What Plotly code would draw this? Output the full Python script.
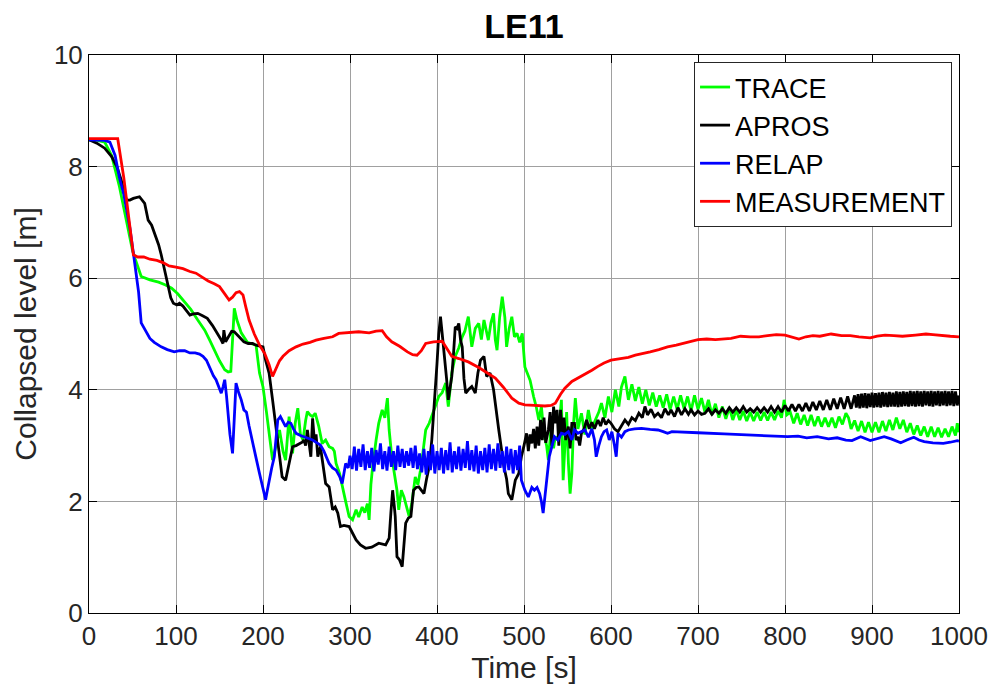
import plotly.graph_objects as go

# ---- TRACE (green) ----
TRACE_T = [0, 7, 18, 26, 35, 43, 50, 53, 60, 70, 80, 88, 95, 102, 110, 117, 125, 133, 139, 144,
           150, 156, 160, 163, 165, 167, 170, 175, 182, 188, 192, 196, 200, 204, 208, 211, 215, 219, 223, 226,
           230, 234, 237, 240, 243, 246, 249, 251, 254, 257, 260, 264, 268, 272, 276, 280, 282, 284, 288, 291,
           295, 299, 303, 307, 310, 314, 317, 320, 322, 324, 326, 330, 333, 337, 340, 343, 345, 348, 351, 354,
           356, 359, 362, 365, 368, 371, 375, 378, 381, 384, 387, 391, 394, 398, 402, 406, 410, 413, 417, 421,
           425, 429, 432, 436, 440, 444, 448, 451, 454, 457, 459, 462, 465, 467, 469, 472, 475, 478, 480, 483,
           486, 489, 492, 495, 498, 501, 504, 507, 511, 514, 517, 520, 523, 526, 528, 531, 534, 536, 539, 541,
           543, 545, 547, 549, 551, 553, 555, 557, 559, 562, 566, 570, 574, 578, 582, 586, 589, 593, 597, 601,
           605, 609, 612, 616, 620, 624, 628, 632, 636, 640, 644, 648, 652, 656, 660, 664, 668, 672, 676, 680,
           684, 688, 692, 696, 700, 704, 708, 712, 716, 720, 724, 728, 732, 736, 740, 744, 748, 752, 756, 760,
           764, 768, 772, 776, 780, 784, 788, 792, 796, 799, 802, 806, 810, 814, 818, 822, 826, 830, 834, 838,
           842, 846, 850, 854, 858, 862, 866, 870, 873, 876, 880, 884, 888, 892, 896, 900, 904, 908, 912, 916,
           920, 924, 928, 932, 936, 940, 944, 948, 952, 956, 960, 964, 968, 972, 976, 980, 984, 988, 992, 996,
           998, 1000]
TRACE_V = [8.48, 8.48, 8.44, 8.2, 7.64, 7.0, 6.5, 6.35, 6.03, 5.97, 5.93, 5.88, 5.82, 5.72, 5.58, 5.44, 5.25, 5.07, 4.88, 4.71,
           4.52, 4.36, 4.32, 4.33, 4.8, 5.46, 5.25, 5.02, 4.85, 4.82, 4.8, 4.3, 4.05, 3.6, 3.1, 2.74, 3.0, 3.28, 2.9, 2.74,
           3.52, 2.86, 3.4, 3.67, 3.2, 3.1, 3.45, 3.61, 3.55, 3.52, 3.58, 3.35, 3.04, 3.1, 2.98, 2.95, 2.9, 2.68, 2.5, 2.26,
           2.0, 1.73, 1.67, 1.85, 1.72, 1.9, 1.8, 1.96, 1.67, 2.3, 2.62, 3.1, 3.4, 3.64, 3.5, 3.85, 3.28, 2.8, 2.5, 2.2,
           1.85, 2.2, 2.08, 1.9, 1.73, 1.96, 2.44, 2.3, 2.56, 2.9, 3.28, 3.4, 3.52, 3.7, 3.88, 3.95, 4.12, 3.7, 4.3, 4.6,
           4.75, 4.95, 5.05, 5.31, 4.77, 5.1, 5.19, 4.9, 5.25, 5.0, 4.89, 5.2, 5.37, 4.9, 4.71, 5.3, 5.67, 5.3, 4.77, 5.1,
           5.31, 4.95, 5.01, 4.85, 5.01, 4.41, 4.3, 4.17, 3.88, 3.7, 3.46, 3.7, 3.2, 3.0, 2.74, 3.3, 2.95, 3.16, 3.1, 3.46,
           3.82, 2.38, 2.98, 3.6, 2.7, 2.14, 2.5, 3.4, 3.85, 3.3, 3.58, 3.2, 3.64, 3.3, 3.46, 3.6, 3.76, 3.5, 3.88, 3.6,
           4.0, 3.7, 4.05, 4.24, 3.82, 4.1, 3.8, 4.05, 3.75, 4.0, 3.72, 3.95, 3.7, 3.9, 3.68, 3.92, 3.65, 3.88, 3.65, 3.9,
           3.66, 3.88, 3.62, 3.9, 3.65, 3.85, 3.6, 3.82, 3.55, 3.75, 3.5, 3.7, 3.48, 3.68, 3.46, 3.64, 3.46, 3.62, 3.44, 3.6,
           3.44, 3.6, 3.45, 3.6, 3.45, 3.6, 3.46, 3.62, 3.5, 3.82, 3.55, 3.6, 3.4, 3.58, 3.38, 3.55, 3.36, 3.55, 3.35, 3.52,
           3.34, 3.5, 3.34, 3.5, 3.32, 3.52, 3.38, 3.58, 3.5, 3.3, 3.45, 3.26, 3.44, 3.24, 3.42, 3.24, 3.42, 3.24, 3.44, 3.26,
           3.46, 3.28, 3.5, 3.3, 3.46, 3.24, 3.4, 3.2, 3.36, 3.18, 3.34, 3.16, 3.34, 3.16, 3.32, 3.15, 3.3, 3.16, 3.34, 3.18,
           3.4, 3.24]

# ---- APROS (black) ----
APROS_T = [0, 9, 18, 26, 32, 37, 43, 47, 51, 58, 64, 68, 72, 76, 80, 83, 87, 91, 94, 97,
           101, 104, 108, 112, 116, 120, 125, 130, 136, 142, 148, 151, 154, 155, 157, 160, 164, 167, 172, 178,
           183, 188, 192, 196, 200, 203, 207, 211, 214, 217, 220, 222, 226, 230, 234, 238, 242, 245, 247, 249,
           251, 253, 255, 257, 259, 261, 263, 266, 269, 272, 276, 278, 280, 283, 286, 289, 293, 299, 303, 307,
           312, 318, 325, 333, 341, 345, 347, 349, 351, 352, 354, 357, 360, 362, 364, 367, 370, 373, 376, 379,
           382, 385, 388, 391, 394, 396, 398, 400, 402, 404, 406, 408, 411, 413, 415, 417, 419, 421, 423, 425,
           427, 429, 431, 433, 436, 440, 444, 447, 450, 454, 457, 461, 465, 468, 471, 474, 477, 480, 482, 486,
           490, 494, 497, 500, 503, 505, 507, 509, 511, 513, 515, 517, 519, 521, 523, 525, 528, 530, 532, 534,
           536, 538, 540, 542, 544, 546, 548, 551, 553, 555, 558, 560, 562, 564, 566, 569, 572, 575, 578, 581,
           585, 588, 591, 594, 597, 600, 604, 608, 612, 616, 620, 624, 628, 632, 636, 639, 642, 646, 650, 654,
           658, 662, 666, 669, 673, 677, 681, 685, 689, 692, 696, 700, 704, 708, 712, 716, 720, 724, 728, 732,
           736, 740, 744, 748, 752, 756, 760, 764, 768, 772, 776, 780, 784, 788, 792, 796, 800, 804, 808, 812,
           816, 820, 824, 828, 832, 836, 840, 844, 848, 852, 856, 860, 864, 868, 872, 876,
           880, 882, 884, 886, 888, 890, 892, 894, 896, 898, 900, 902, 904, 906, 908, 910, 912, 914, 916, 918,
           920, 922, 924, 926, 928, 930, 932, 934, 936, 938, 940, 942, 944, 946, 948, 950, 952, 954, 956, 958,
           960, 962, 964, 966, 968, 970, 972, 974, 976, 978, 980, 982, 984, 986, 988, 990, 992, 994, 996, 998,
           1000]
APROS_V = [8.48, 8.42, 8.33, 8.18, 8.0, 7.76, 7.4, 7.4, 7.43, 7.46, 7.34, 7.04, 6.95, 6.78, 6.6, 6.42, 6.15, 5.91, 5.65, 5.55,
           5.52, 5.55, 5.5, 5.42, 5.34, 5.36, 5.37, 5.33, 5.28, 5.15, 5.01, 4.92, 4.83, 5.07, 4.86, 4.95, 5.05, 5.04, 4.95, 4.86,
           4.83, 4.83, 4.8, 4.78, 4.77, 4.53, 4.3, 3.82, 3.45, 3.1, 2.7, 2.44, 2.38, 2.68, 2.98, 3.0, 3.04, 3.06, 3.1, 3.0,
           3.28, 3.05, 2.8, 3.49, 3.1, 3.2, 2.8, 2.98, 2.6, 2.32, 2.26, 2.0, 1.85, 1.9, 1.79, 1.55, 1.57, 1.55, 1.42, 1.31,
           1.22, 1.16, 1.18, 1.25, 1.22, 1.34, 1.8, 2.2, 1.9, 1.73, 1.01, 0.95, 0.83, 1.2, 1.61, 1.7, 1.73, 2.2, 2.25, 2.26,
           2.2, 2.14, 2.4, 2.62, 3.1, 3.52, 4.0, 4.47, 5.0, 5.31, 5.0, 4.71, 4.2, 3.82, 4.0, 4.24, 4.65, 5.13, 5.1, 5.19,
           4.9, 4.77, 4.2, 3.94, 4.0, 4.06, 3.94, 4.3, 4.53, 4.6, 4.24, 4.3, 4.0, 3.6, 3.28, 2.95, 2.62, 2.4, 2.14, 2.03,
           2.38, 2.5, 2.8, 3.0, 3.22, 2.9, 3.2, 3.04, 3.3, 2.95, 3.34, 3.0, 3.46, 3.1, 3.5, 3.05, 3.28, 3.6, 3.0, 3.7,
           3.4, 3.64, 3.0, 3.64, 3.2, 3.5, 3.1, 3.34, 2.95, 3.4, 3.4, 3.1, 3.16, 3.0, 3.22, 3.3, 3.46, 3.3, 3.42, 3.3,
           3.46, 3.35, 3.5, 3.38, 3.45, 3.4, 3.3, 3.25, 3.35, 3.46, 3.38, 3.5, 3.45, 3.58, 3.5, 3.7, 3.55, 3.65, 3.52, 3.58,
           3.5, 3.66, 3.55, 3.64, 3.52, 3.68, 3.55, 3.66, 3.56, 3.64, 3.55, 3.62, 3.56, 3.58, 3.66, 3.56, 3.64, 3.58, 3.66, 3.58,
           3.68, 3.6, 3.68, 3.6, 3.7, 3.6, 3.66, 3.6, 3.68, 3.6, 3.68, 3.6, 3.7, 3.6, 3.7, 3.6, 3.72, 3.62, 3.74, 3.62,
           3.74, 3.62, 3.76, 3.62, 3.78, 3.64, 3.8, 3.64, 3.82, 3.64, 3.84, 3.66, 3.86, 3.66, 3.88, 3.66,
           3.9, 3.68, 3.92, 3.67, 3.93, 3.68, 3.94, 3.67, 3.93, 3.69, 3.95, 3.68, 3.94, 3.69, 3.95, 3.68, 3.96, 3.7, 3.95, 3.69,
           3.96, 3.7, 3.95, 3.7, 3.97, 3.69, 3.96, 3.7, 3.97, 3.71, 3.96, 3.7, 3.98, 3.71, 3.97, 3.7, 3.98, 3.71, 3.97, 3.7,
           3.98, 3.72, 3.97, 3.71, 3.98, 3.7, 3.97, 3.72, 3.98, 3.71, 3.97, 3.72, 3.98, 3.71, 3.97, 3.72, 3.98, 3.71, 3.97, 3.72,
           3.9]

# ---- RELAP (blue) ----
RELAP_T = [0, 10, 18, 24, 30, 35, 40, 43, 47, 51, 54, 57, 60, 63, 66, 70, 75, 83, 90, 98,
           104, 110, 116, 122, 127, 131, 135, 140, 143, 146, 149, 152, 154, 156, 158, 160, 162, 165, 167, 169,
           172, 175, 178, 181, 184, 188, 192, 196, 200, 203, 205, 207, 210, 213, 215, 217, 220, 223, 226, 229,
           232, 235, 238, 243, 247, 252, 257, 262, 266, 270, 273, 276, 280, 284, 288, 291, 293, 295, 298, 300,
           302.5, 305, 307.5, 310, 312.5, 315, 317.5, 320, 322.5, 325, 327.5, 330, 332.5, 335, 337.5, 340, 342.5, 345, 347.5, 350,
           352.5, 355, 357.5, 360, 362.5, 365, 367.5, 370, 372.5, 375, 377.5, 380, 382.5, 385, 387.5, 390, 392.5, 395, 397.5, 400,
           402.5, 405, 407.5, 410, 412.5, 415, 417.5, 420, 422.5, 425, 427.5, 430, 432.5, 435, 437.5, 440, 442.5, 445, 447.5, 450,
           452.5, 455, 457.5, 460, 462.5, 465, 467.5, 470, 472.5, 475, 477.5, 480, 482.5, 485, 487.5, 490, 492.5, 495,
           497, 501, 505, 509, 512, 515, 518, 520, 522, 524, 526, 529, 532, 535, 539, 543, 547, 551, 555, 558,
           562, 566, 570, 574, 578, 581, 583, 586, 589, 592, 595, 598, 601, 604, 606, 608, 612, 616, 620, 627,
           635, 645, 654, 660, 665, 670, 680, 700, 730, 750, 770, 790, 803, 815, 825, 837, 850, 860, 870, 877,
           887, 898, 906, 914, 922, 933, 940, 948, 954, 960, 970, 982, 990, 998, 1000]
RELAP_V = [8.48, 8.48, 8.47, 8.44, 8.2, 7.8, 7.5, 7.25, 6.9, 6.45, 6.1, 5.75, 5.2, 5.12, 5.05, 4.92, 4.85, 4.77, 4.72, 4.68,
           4.7, 4.7, 4.66, 4.66, 4.64, 4.6, 4.53, 4.35, 4.25, 4.18, 4.05, 3.94, 4.05, 4.18, 3.9, 3.52, 3.2, 2.86, 3.5, 4.12,
           3.95, 3.82, 3.64, 3.6, 3.35, 3.04, 2.78, 2.5, 2.2, 2.03, 2.2, 2.38, 2.6, 2.8, 3.1, 3.46, 3.52, 3.42, 3.34, 3.42,
           3.4, 3.3, 3.22, 3.18, 3.16, 3.13, 3.1, 3.05, 3.01, 2.9, 2.8, 2.68, 2.6, 2.56, 2.45, 2.32, 2.5, 2.68, 2.6, 2.82,
           2.58, 2.98, 2.55, 2.94, 2.62, 3.02, 2.56, 2.9, 2.6, 2.96, 2.54, 2.92, 2.66, 3.04, 2.58, 2.9, 2.55, 2.98, 2.62, 2.9,
           2.56, 3.0, 2.62, 2.94, 2.6, 2.9, 2.64, 2.96, 2.6, 3.0, 2.58, 2.86, 2.52, 2.94, 2.48, 2.9, 2.56, 3.02, 2.5, 2.9,
           2.56, 2.96, 2.5, 2.92, 2.56, 3.06, 2.52, 2.9, 2.58, 2.98, 2.55, 2.94, 2.6, 3.08, 2.56, 2.92, 2.54, 3.0, 2.5, 2.9,
           2.56, 2.96, 2.52, 3.02, 2.58, 2.94, 2.55, 3.04, 2.6, 2.9, 2.52, 2.98, 2.56, 2.94, 2.5, 2.92, 2.56, 3.0,
           2.38, 2.2, 2.08, 2.25, 2.2, 2.25, 2.14, 2.0, 1.79, 2.1, 2.44, 2.8, 2.98, 3.16, 3.1, 3.22, 3.2, 3.25, 3.1, 3.28,
           3.22, 3.25, 3.28, 3.15, 3.3, 3.1, 2.8, 3.0, 3.16, 3.25, 3.28, 3.1, 3.25, 3.0, 2.8, 3.22, 3.15, 3.25, 3.28, 3.3,
           3.31, 3.29, 3.28, 3.25, 3.22, 3.25, 3.24, 3.23, 3.21, 3.2, 3.19, 3.18, 3.16, 3.17, 3.14, 3.16, 3.12, 3.14, 3.1, 3.09,
           3.16, 3.09, 3.12, 3.16, 3.12, 3.05, 3.1, 3.15, 3.1, 3.07, 3.05, 3.04, 3.06, 3.09, 3.08]

# ---- MEASUREMENT (red) ----
MEAS_T = [0, 33, 40, 45, 51, 56, 63, 70, 78, 85, 92, 100, 108, 116, 123, 130, 137, 144, 150, 156,
          161, 165, 169, 173, 177, 180, 184, 190, 196, 202, 207, 211, 215, 219, 223, 230, 238, 246, 254, 261,
          270, 280, 287, 299, 310, 322, 330, 337, 342, 348, 357, 366, 372, 377, 382, 387, 396, 406, 411, 417,
          425, 436, 448, 458, 467, 476, 486, 494, 501, 512, 524, 531, 536, 542, 547, 555, 563, 570, 578, 585,
          592, 600, 610, 620, 628, 635, 645, 655, 665, 675, 685, 693, 700, 710, 720, 738, 749, 760, 770, 780,
          790, 800, 808, 816, 824, 832, 840, 853, 865, 875, 885, 898, 906, 915, 925, 935, 950, 962, 970, 980,
          990, 1000]
MEAS_V = [8.5, 8.5, 7.8, 7.2, 6.42, 6.38, 6.38, 6.34, 6.32, 6.28, 6.22, 6.2, 6.17, 6.12, 6.09, 6.02, 5.95, 5.9, 5.85, 5.72,
          5.61, 5.66, 5.74, 5.76, 5.7, 5.5, 5.25, 5.0, 4.8, 4.65, 4.45, 4.24, 4.38, 4.52, 4.6, 4.7, 4.77, 4.82, 4.85, 4.89,
          4.92, 4.95, 5.01, 5.02, 5.04, 5.02, 5.05, 5.06, 4.95, 4.86, 4.78, 4.68, 4.63, 4.62, 4.7, 4.83, 4.86, 4.87, 4.75, 4.6,
          4.56, 4.5, 4.4, 4.3, 4.21, 4.05, 3.85, 3.76, 3.73, 3.72, 3.71, 3.72, 3.76, 3.92, 4.03, 4.15, 4.22, 4.27, 4.35, 4.42,
          4.48, 4.53, 4.56, 4.58, 4.62, 4.65, 4.68, 4.72, 4.77, 4.8, 4.84, 4.88, 4.9, 4.91, 4.9, 4.92, 4.96, 4.95, 4.95, 4.97,
          4.99, 4.98, 4.95, 4.91, 4.95, 4.97, 4.96, 5.0, 4.97, 4.97, 4.95, 4.93, 4.96, 4.98, 4.97, 4.96, 4.98, 5.0, 4.99, 4.97,
          4.96, 4.95]

SERIES = [
    ("TRACE", TRACE_T, TRACE_V, "#00ff00"),
    ("APROS", APROS_T, APROS_V, "#000000"),
    ("RELAP", RELAP_T, RELAP_V, "#0000ff"),
    ("MEASUREMENT", MEAS_T, MEAS_V, "#ff0000"),
]

X_TICKS = [0, 100, 200, 300, 400, 500, 600, 700, 800, 900, 1000]
Y_TICKS = [0, 2, 4, 6, 8, 10]

FONT = "Arial, 'Liberation Sans', Helvetica, sans-serif"

fig = go.Figure()
for name, t, v, color in SERIES:
    assert len(t) == len(v), name
    fig.add_trace(go.Scatter(x=t, y=v, mode="lines", name=name,
                             line=dict(color=color, width=2.8)))

axis_common = dict(
    showline=True, linecolor="black", linewidth=1, mirror="ticks",
    ticks="inside", ticklen=8, tickwidth=1, tickcolor="black",
    showgrid=True, gridcolor="#a0a0a0", gridwidth=1.2,
    zeroline=False, tickfont=dict(family=FONT, size=26, color="#262626"),
)

fig.update_layout(
    width=1000, height=698,
    margin=dict(l=89, r=38, t=55, b=85),
    paper_bgcolor="white", plot_bgcolor="white",
    title=dict(text="<b>LE11</b>", x=0.5, xref="paper", y=1 - 26 / 698, yref="container",
               xanchor="center", yanchor="middle",
               font=dict(family=FONT, size=34, color="black")),
    xaxis=dict(range=[0, 1000], tickvals=X_TICKS, **axis_common,
               title=dict(text="Time [s]", standoff=6,
                          font=dict(family=FONT, size=30, color="#262626"))),
    yaxis=dict(range=[0, 10], tickvals=Y_TICKS, **axis_common,
               title=dict(text="Collapsed level [m]", standoff=8,
                          font=dict(family=FONT, size=30, color="#262626"))),
    legend=dict(x=0.992, y=0.9875, xanchor="right", yanchor="top",
                bgcolor="white", bordercolor="#262626", borderwidth=1,
                font=dict(family=FONT, size=27, color="black"),
                itemwidth=30, tracegroupgap=0),
    showlegend=True,
)

fig.write_html("out.html")
